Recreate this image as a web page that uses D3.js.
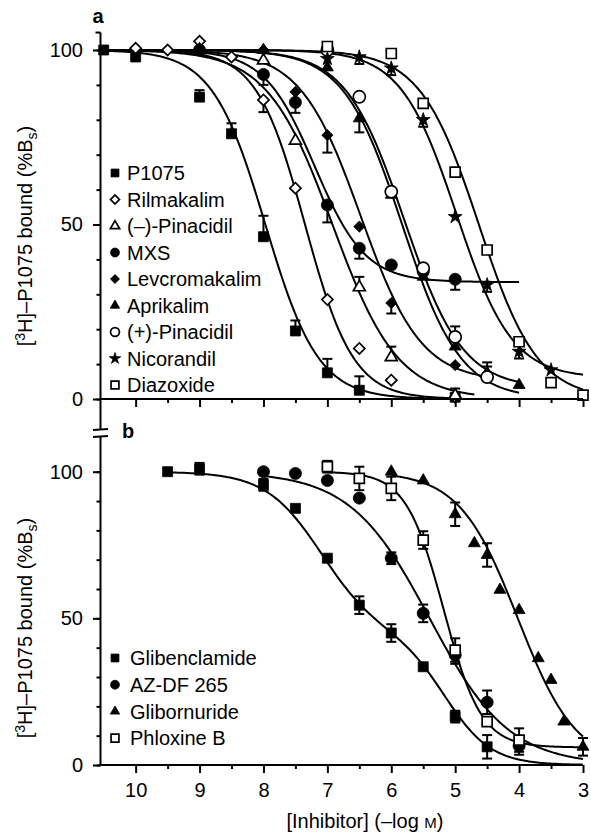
<!DOCTYPE html>
<html><head><meta charset="utf-8">
<script src="https://cdn.jsdelivr.net/npm/d3@7"></script>
<style>
body{margin:0;background:#fff}
svg{display:block}
text{font-family:"Liberation Sans",Arial,Helvetica,sans-serif;fill:#000}
</style>
</head><body>
<svg id="chart" width="591" height="836"></svg>
<script>
// ---------- tick labels ----------
const xTickValues = [10, 9, 8, 7, 6, 5, 4, 3];
const xMinorTicks = [9.5, 8.5, 7.5, 6.5, 5.5, 4.5, 3.5];
const yTickValues = [0, 50, 100];
const yMinorTicks = [0, 10, 20, 30, 40, 50, 60, 70, 80, 90, 100];

// ---------- panel a ----------
const aNames  = ["P1075", "Rilmakalim", "(–)-Pinacidil", "MXS", "Levcromakalim", "Aprikalim", "(+)-Pinacidil", "Nicorandil", "Diazoxide"];
const aShapes = ["square", "diamond", "triangle", "circle", "diamond", "triangle", "circle", "star", "square"];
const aFilled = [true, false, false, true, true, true, false, true, false];
const aX = [
  [10.5, 10, 9, 8.5, 8, 7.5, 7, 6.5, 5],
  [10, 9.5, 9, 8.5, 8, 7.5, 7, 6.5, 6, 5],
  [9, 8, 7.5, 6.5, 6, 5],
  [9, 8, 7.5, 7, 6.5, 6, 5.5, 5],
  [9, 8, 7.5, 7, 6.5, 6, 5, 4.5],
  [8, 7, 6.5, 6, 5.5, 5, 4.5, 4],
  [7, 6.5, 6, 5.5, 5, 4.5],
  [7, 6.5, 6, 5.5, 5, 4.5, 4, 3.5],
  [7, 6, 5.5, 5, 4.5, 4, 3.5, 3]
];
const aY = [
  [100, 98, 86.5, 76, 46.5, 19.5, 7.5, 2.5, 0.5],
  [100.5, 100, 102.5, 98, 85.7, 60.4, 28.5, 14.5, 5.4, 0.5],
  [100, 97, 74, 32, 12, 1],
  [100, 93, 85, 55.6, 43.2, 38.4, 36.5, 34.3],
  [100, 100, 88, 75.6, 49.4, 27.5, 9.7, 7],
  [100, 95, 80.4, 58.5, 35, 15, 7.5, 4],
  [100, 86.6, 59.4, 37.5, 17.8, 6.3],
  [97.5, 98, 94.8, 80, 52.2, 32.7, 13.6, 8.3],
  [101, 99, 84.7, 65, 42.7, 16.4, 4.7, 1.1]
];
// signed one-sided errors (+ up, - down)
const aErr = [
  [0, 0, 2, 3, 6, 3, 4, 4, 0],
  [0, 0, 0, 0, -3.5, 0, 0, 0, 0, 0],
  [0, 0, 0, 3, 3, 2],
  [0, -3, -3, -5, -3, 0, 0, -3],
  [0, 0, 0, -5, 0, -3, 0, 0],
  [0, 0, -4, 0, 0, 0, 3, 0],
  [0, 0, 0, 0, 3, 3],
  [0, -2, -2, -2, 0, -2, -2, 0],
  [0, 0, 0, 0, 0, 0, 0, 0]
];
// fitted curve parameters (one-site fits)
const aPIC50  = [7.97, 7.35, 6.92, 7.2, 6.48, 5.8, 5.83, 4.98, 4.63];
const aHill   = [1.05, 1.15, 0.85, 1.1, 0.92, 0.95, 0.95, 1.0, 0.95];
const aBottom = [0, 0, 0, 33.5, 5, 3, 0, 6, 0];
const aFrac   = [1, 1, 1, 1, 1, 1, 1, 1, 1];
const aPIC50b = [0, 0, 0, 0, 0, 0, 0, 0, 0];
const aHillb  = [1, 1, 1, 1, 1, 1, 1, 1, 1];
const aStart  = [10.5, 10.5, 10.5, 10.5, 10.5, 10.5, 10.5, 10.5, 10.5];
const aEnd    = [5, 5, 4.7, 4, 4.5, 4, 4, 3, 3];

// ---------- panel b ----------
const bNames  = ["Glibenclamide", "AZ-DF 265", "Glibornuride", "Phloxine B"];
const bShapes = ["square", "circle", "triangle", "square"];
const bFilled = [true, true, true, false];
const bX = [
  [9.5, 9, 8, 7.5, 7, 6.5, 6, 5.5, 5, 4.5],
  [8, 7.5, 7, 6.5, 6, 5.5, 5, 4.5, 4],
  [6, 5.5, 5, 4.7, 4.5, 4.3, 4, 3.7, 3.5, 3.3, 3],
  [7, 6.5, 6, 5.5, 5, 4.5, 4]
];
const bY = [
  [100, 101, 95.5, 87.5, 70.5, 54.5, 45, 33.5, 16.5, 6.2],
  [100, 99.4, 97, 91, 70.5, 51.7, 37.5, 21.4, 6.5],
  [100, 97, 85.5, 75.6, 71.6, 59.7, 52.8, 36.4, 29, 14.8, 6.2],
  [101.7, 97.7, 94.3, 76.7, 39.2, 14.8, 8.5]
];
// symmetric errors
const bErr = [
  [0, 2, 2, 0, 0, 3, 3, 0, 2, 4],
  [0, 0, 0, 0, 2, 3, 3, 4, 3],
  [0, 0, 4, 0, 4, 0, 0, 0, 0, 0, 3],
  [2, 4, 4, 3, 4, 0, 4]
];
// fitted curve parameters (Glibenclamide: two-site fit)
const bPIC50  = [7.1, 5.4, 4.02, 5.18];
const bHill   = [1.0, 0.7, 0.95, 1.47];
const bBottom = [0, 0, 0, 6];
const bFrac   = [0.55, 1, 1, 1];
const bPIC50b = [5.15, 0, 0, 0];
const bHillb  = [1.2, 1, 1, 1];
const bStart  = [9.5, 8, 6, 7];
const bEnd    = [3, 3, 3, 3];

// ---------- drawing ----------
const svg = d3.select("#chart");
const x = d3.scaleLinear().domain([10.55, 3]).range([100.5, 583]);
const yA = d3.scaleLinear().domain([0, 100]).range([399, 50]);
const yB = d3.scaleLinear().domain([0, 100]).range([765, 471.7]);
const axisX = 100.5;
const FS = 20;

function symbolPath(shape, size) {
  const t = {square: d3.symbolSquare, circle: d3.symbolCircle, triangle: d3.symbolTriangle,
             star: d3.symbolStar, diamond: d3.symbolSquare}[shape];
  return d3.symbol().type(t).size(size)();
}
const dataSize = {square: 100, circle: 115, triangle: 62, star: 60, diamond: 62};
const legSize  = {square: 62, circle: 62, triangle: 38, star: 40, diamond: 40};

function addMarker(g, shape, filled, cx, cy, size) {
  let tr = `translate(${cx},${cy})`;
  if (shape === "diamond") tr += " rotate(45)";
  g.append("path")
    .attr("d", symbolPath(shape, size))
    .attr("transform", tr)
    .attr("fill", filled ? "#000" : "#fff")
    .attr("stroke", "#000")
    .attr("stroke-width", filled ? 0.8 : 1.7);
}

function model(xv, p, n, bot, f, p2, n2) {
  const s1 = 1 / (1 + Math.pow(10, n * (p - xv)));
  const s2 = 1 / (1 + Math.pow(10, n2 * (p2 - xv)));
  return bot + (100 - bot) * (f * s1 + (1 - f) * s2);
}

function drawPanel(y, X, Y, E, P, N, B, F, P2, N2, S, En, shapes, filled, symmetric) {
  const g = svg.append("g");
  const line = d3.line().x(d => x(d[0])).y(d => y(d[1]));
  X.forEach((_, i) => {
    const pts = d3.range(0, 201).map(k => {
      const xv = S[i] + (En[i] - S[i]) * k / 200;
      return [xv, model(xv, P[i], N[i], B[i], F[i], P2[i], N2[i])];
    });
    g.append("path").attr("d", line(pts)).attr("fill", "none")
      .attr("stroke", "#000").attr("stroke-width", 2);
  });
  X.forEach((xs, i) => {
    xs.forEach((xv, j) => {
      const e = E[i][j];
      if (!e) return;
      const cx = x(xv), cy = y(Y[i][j]);
      const ends = symmetric ? [Y[i][j] + e, Y[i][j] - e] : [Y[i][j] + e];
      ends.forEach(ev => {
        g.append("line").attr("x1", cx).attr("x2", cx).attr("y1", cy).attr("y2", y(ev))
          .attr("stroke", "#000").attr("stroke-width", 2);
        g.append("line").attr("x1", cx - 5).attr("x2", cx + 5).attr("y1", y(ev)).attr("y2", y(ev))
          .attr("stroke", "#000").attr("stroke-width", 2);
      });
    });
  });
  X.forEach((xs, i) => {
    xs.forEach((xv, j) => {
      addMarker(g, shapes[i], filled[i], x(xv), y(Y[i][j]), dataSize[shapes[i]]);
    });
  });
}

function styleAxis(sel) {
  sel.select(".domain").remove();
  sel.selectAll("line").attr("stroke", "#000").attr("stroke-width", 2);
  sel.selectAll("text").style("font-size", FS + "px").attr("fill", "#000");
}
function yAxes(y) {
  svg.append("g").attr("transform", `translate(${axisX},0)`)
    .call(d3.axisLeft(y).tickValues(yMinorTicks).tickSize(4).tickFormat(""))
    .call(styleAxis);
  svg.append("g").attr("transform", `translate(${axisX},0)`)
    .call(d3.axisLeft(y).tickValues(yTickValues).tickSize(7.5).tickPadding(10).tickFormat(d3.format("d")))
    .call(styleAxis);
}
function xAxes(y0, labels) {
  svg.append("g").attr("transform", `translate(0,${y0})`)
    .call(d3.axisBottom(x).tickValues(xMinorTicks).tickSize(4).tickFormat(""))
    .call(styleAxis);
  svg.append("g").attr("transform", `translate(0,${y0})`)
    .call(d3.axisBottom(x).tickValues(xTickValues).tickSize(8).tickPadding(10)
      .tickFormat(labels ? d3.format("d") : ""))
    .call(styleAxis);
}

drawPanel(yA, aX, aY, aErr, aPIC50, aHill, aBottom, aFrac, aPIC50b, aHillb, aStart, aEnd, aShapes, aFilled, false);
yAxes(yA);
xAxes(yA(0), false);
drawPanel(yB, bX, bY, bErr, bPIC50, bHill, bBottom, bFrac, bPIC50b, bHillb, bStart, bEnd, bShapes, bFilled, true);
yAxes(yB);
xAxes(yB(0), true);

// axis lines and break
const ax = svg.append("g").attr("stroke", "#000").attr("stroke-width", 2);
ax.append("line").attr("x1", axisX).attr("x2", axisX).attr("y1", yA(105)).attr("y2", 429);
ax.append("line").attr("x1", axisX - 5).attr("x2", axisX).attr("y1", yA(105)).attr("y2", yA(105));
ax.append("line").attr("x1", axisX).attr("x2", axisX).attr("y1", 437).attr("y2", yB(0));
ax.append("line").attr("x1", axisX).attr("x2", x(3)).attr("y1", yA(0)).attr("y2", yA(0));
ax.append("line").attr("x1", axisX).attr("x2", x(3)).attr("y1", yB(0)).attr("y2", yB(0));
ax.append("line").attr("x1", 93).attr("x2", 108).attr("y1", 430).attr("y2", 429);
ax.append("line").attr("x1", 93).attr("x2", 108).attr("y1", 437).attr("y2", 436);

// panel labels
svg.append("text").attr("x", 98).attr("y", 23).attr("text-anchor", "middle")
  .style("font-size", "20px").style("font-weight", "bold").text("a");
svg.append("text").attr("x", 122).attr("y", 438)
  .style("font-size", "20px").style("font-weight", "bold").text("b");

// legends
function legend(names, shapes, filled, ys, tx) {
  names.forEach((n, i) => {
    addMarker(svg, shapes[i], filled[i], 115, ys[i], legSize[shapes[i]]);
    svg.append("text").attr("x", tx).attr("y", ys[i]).attr("dy", "0.36em")
      .style("font-size", FS + "px").text(n);
  });
}
legend(aNames, aShapes, aFilled, d3.range(9).map(i => 173 + i * 26.5), 127);
legend(bNames, bShapes, bFilled, d3.range(4).map(i => 658 + i * 26.7), 130);

// y titles
function yTitle(cy) {
  const t = svg.append("text").attr("transform", `translate(32,${cy}) rotate(-90)`)
    .attr("text-anchor", "middle").style("font-size", FS + "px");
  t.append("tspan").text("[");
  t.append("tspan").attr("dy", -7).style("font-size", "14px").text("3");
  t.append("tspan").attr("dy", 7).text("H]–P1075 bound (%B");
  t.append("tspan").attr("dy", 5).style("font-size", "14px").text("s");
  t.append("tspan").attr("dy", -5).text(")");
}
yTitle(236);
yTitle(628);

// x title
const xt = svg.append("text").attr("x", 365).attr("y", 828).attr("text-anchor", "middle")
  .style("font-size", FS + "px");
xt.append("tspan").text("[Inhibitor] (–log ");
xt.append("tspan").style("font-size", "15px").text("M");
xt.append("tspan").text(")");
</script>
</body></html>
